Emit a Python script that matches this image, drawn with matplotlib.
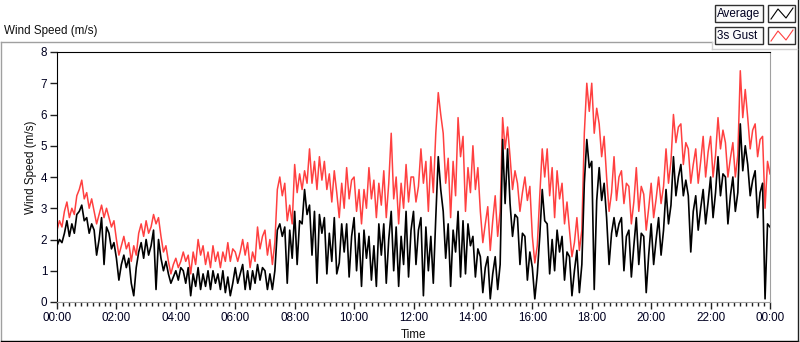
import numpy as np
import matplotlib
matplotlib.use("Agg")
import matplotlib.pyplot as plt
from matplotlib.patches import Rectangle
from matplotlib.ticker import MultipleLocator

plt.rcParams['font.family'] = ['Liberation Sans', 'DejaVu Sans']

# wind speed (m/s), one value every 5 minutes
gust = [
    2.3, 2.6, 2.4, 2.9, 3.2, 2.7, 3.0, 2.8, 3.4, 3.6, 3.9, 3.3,
    3.5, 3.0, 3.3, 2.9, 2.5, 2.8, 3.1, 2.7, 3.0, 2.7, 2.4, 2.6,
    2.0, 1.5, 1.8, 2.1, 1.7, 1.9, 1.3, 1.8, 1.5, 2.2, 2.5, 2.1,
    2.6, 2.2, 2.4, 2.8, 2.5, 2.7, 2.1, 1.6, 1.8, 1.3, 0.9, 1.2,
    1.4, 1.1, 1.3, 1.6, 1.3, 1.5, 0.9, 1.6, 1.2, 2.0, 1.5, 1.8,
    1.2, 1.6, 1.1, 1.8, 1.3, 1.6, 1.1, 1.6, 1.3, 1.9, 1.3, 1.7,
    1.6, 1.3, 1.6, 2.0, 1.5, 1.9, 1.1, 1.6, 1.3, 2.4, 1.7, 2.1,
    2.3, 1.5, 2.0, 1.2, 1.9, 3.6, 4.0, 3.4, 3.8, 2.6, 3.1, 2.5,
    4.4, 3.5, 4.1, 3.6, 4.2, 3.8, 4.9, 3.8, 4.5, 3.6, 4.65, 3.9,
    4.5, 3.6, 4.1, 3.2, 4.2, 3.5, 2.7, 3.8, 3.0, 4.3, 3.3, 3.9,
    4.0, 2.9, 3.6, 2.5, 3.6, 3.0, 4.3, 3.3, 3.9, 2.7, 3.8, 3.1,
    4.2, 2.7, 3.8, 5.4, 3.3, 4.0, 2.5, 3.8, 3.0, 4.4, 3.2, 4.0,
    4.0, 3.2, 3.7, 4.9, 3.8, 4.5, 2.9, 4.65, 3.5, 5.4, 6.7, 6.0,
    5.4, 3.8, 4.6, 2.7, 4.5, 3.4, 5.9, 4.65, 5.3, 2.9, 4.3, 3.5,
    5.0, 3.6, 4.3, 2.9, 1.9, 2.5, 3.05, 1.65, 2.6, 3.4, 2.1, 2.9,
    5.9, 4.9, 5.6, 4.65, 3.6, 4.2, 3.8, 2.9, 3.5, 4.0, 3.25, 3.7,
    2.1, 1.25, 1.8, 3.4, 4.9, 4.0, 4.9, 3.4, 4.3, 2.7, 4.2, 3.3,
    3.8, 2.5, 3.2, 2.3, 1.45, 1.9, 2.7, 1.65, 2.3, 5.4, 7.0, 6.1,
    7.0, 5.4, 6.2, 5.7, 4.65, 5.3, 4.0, 2.9, 3.5, 4.65, 3.25, 4.0,
    4.2, 3.15, 3.8, 3.7, 2.5, 3.2, 4.3, 2.9, 3.7, 3.45, 2.3, 3.0,
    3.8, 2.7, 3.3, 4.0, 3.15, 3.7, 4.9, 3.8, 4.5, 6.0, 5.1, 5.6,
    5.7, 4.4, 5.1, 4.9, 3.8, 4.4, 4.9, 3.8, 4.5, 5.3, 4.0, 4.8,
    5.3, 4.0, 4.7, 5.9, 4.9, 5.5, 5.1, 4.0, 4.6, 5.1, 4.0, 4.7,
    7.4, 5.9, 6.8, 5.9, 4.9, 5.5, 5.7, 4.65, 5.2, 5.3, 3.0, 4.5,
    4.1,
]
average = [
    1.8, 2.0, 1.9, 2.2, 2.6, 2.1, 2.5, 2.2, 2.8, 2.9, 3.1, 2.6,
    2.7, 2.2, 2.5, 2.3, 1.5, 2.0, 2.7, 1.2, 2.4, 2.2, 1.7, 1.9,
    1.4, 0.7, 1.2, 1.5, 1.1, 1.4, 0.6, 0.2, 1.1, 1.6, 1.9, 1.4,
    2.0, 1.5, 1.8, 2.3, 0.4, 2.0, 1.4, 1.0, 1.3, 0.9, 0.6, 0.8,
    1.0, 0.7, 1.1, 1.0, 0.6, 1.1, 0.2, 0.9, 0.5, 1.1, 0.4, 0.9,
    0.5, 1.0, 0.4, 1.0, 0.6, 0.9, 0.4, 1.0, 0.3, 0.8, 0.2, 0.6,
    1.1, 0.6, 0.9, 1.2, 0.4, 1.0, 0.4, 1.0, 0.6, 1.2, 0.7, 1.1,
    1.0, 0.4, 0.9, 0.4, 1.0, 2.3, 2.5, 2.1, 2.4, 0.6, 2.3, 1.4,
    2.9, 1.2, 2.6, 2.5, 3.6, 2.8, 3.1, 1.5, 2.9, 0.6, 2.8, 2.2,
    2.7, 0.9, 2.2, 1.3, 2.7, 0.9, 1.25, 2.5, 1.6, 2.5, 0.8, 2.1,
    2.7, 1.0, 2.2, 0.5, 2.3, 1.4, 2.1, 0.7, 1.8, 0.5, 2.5, 1.5,
    2.5, 0.6, 2.0, 2.9, 1.0, 2.4, 0.5, 2.1, 1.2, 2.9, 0.8, 2.3,
    2.9, 1.2, 2.3, 2.7, 0.2, 2.4, 1.0, 2.1, 0.6, 2.7, 4.65, 3.6,
    2.9, 1.4, 2.5, 0.5, 2.3, 1.6, 2.9, 0.8, 2.6, 0.9, 2.5, 1.8,
    2.1, 0.8, 1.7, 1.45, 0.3, 1.1, 1.45, 0.1, 0.9, 1.45, 0.4, 1.2,
    5.2, 3.15, 4.9, 3.15, 2.1, 2.8, 2.7, 1.2, 2.2, 2.1, 0.7, 1.6,
    1.1, 0.1, 0.9, 2.1, 3.6, 2.6, 2.5, 0.9, 2.0, 1.0, 2.3, 1.6,
    2.1, 0.7, 1.6, 1.45, 0.2, 1.0, 1.65, 0.3, 1.2, 3.8, 5.2, 4.3,
    4.5, 0.4, 3.25, 4.3, 3.25, 3.8, 2.7, 1.2, 2.2, 2.7, 2.1, 2.5,
    2.7, 1.0, 2.1, 2.3, 0.8, 1.8, 2.7, 1.2, 2.2, 2.1, 0.3, 1.5,
    2.5, 1.2, 2.0, 2.7, 1.5, 2.3, 3.6, 2.5, 3.1, 4.65, 3.4, 4.0,
    4.4, 3.4, 3.9, 3.4, 1.6, 2.9, 3.4, 2.3, 3.0, 3.6, 2.5, 3.2,
    4.0, 2.7, 3.5, 4.65, 3.4, 4.1, 4.0, 2.5, 3.4, 4.0, 2.9, 3.5,
    5.7, 4.2, 5.0, 4.4, 3.4, 3.9, 4.2, 2.7, 3.5, 3.8, 0.1, 2.5,
    2.4,
]
hours = np.arange(len(gust)) * 5 / 60.0

tick_hours = list(range(0, 25, 2))
tick_labels = ["00:00", "02:00", "04:00", "06:00", "08:00", "10:00", "12:00",
               "14:00", "16:00", "18:00", "20:00", "22:00", "00:00"]

W, H = 800, 342
fig = plt.figure(figsize=(W / 100, H / 100), dpi=100)

# frame / legend overlay in pixel coordinates
ov = fig.add_axes([0, 0, 1, 1])
ov.set_xlim(0, W)
ov.set_ylim(H, 0)
ov.axis("off")
ov.plot([0.5, 712], [42, 42], color="#a0a0a0", lw=1)
ov.plot([0.5, 0.5], [42, 341], color="#a0a0a0", lw=1)
ov.plot([0.5, 798], [341, 341], color="#000000", lw=1)
ov.plot([798, 798], [0, 341], color="#202020", lw=1)
ov.plot([712, 712], [42, 49], color="#d0d0d0", lw=1)
ov.plot([712, 797], [49, 49], color="#d0d0d0", lw=1)
ov.text(4, 31, "Wind Speed (m/s)", fontsize=8.4, va="center", ha="left", color="#101010")

for top, name, col in [(5, "Average", "black"), (27, "3s Gust", "#ff4040")]:
    ov.add_patch(Rectangle((715, top), 48, 17, fill=True, facecolor="#fbfbfb",
                           edgecolor="#303030", lw=1))
    ov.text(717, top + 9, name, fontsize=8.4, va="center", ha="left", color="#000020")
    ov.add_patch(Rectangle((768, top), 27, 17, fill=True, facecolor="white",
                           edgecolor="#303030", lw=1))
    ov.plot([771, 778, 786, 793], [top + 14, top + 4, top + 13, top + 3], color=col, lw=0.8)

ov.text(31, 167, "Wind Speed (m/s)", fontsize=8.4, rotation=90, va="center", ha="center",
        color="#101010")

ax = fig.add_axes([57 / W, (H - 302) / H, 713 / W, 250 / H])
ax.plot(hours, gust, color="#ff4040", lw=1.1)
ax.plot(hours, average, color="black", lw=1.2)
ax.set_xlim(0, 24)
ax.set_ylim(0, 8)
ax.set_xticks(tick_hours)
ax.set_xticklabels(tick_labels)
ax.xaxis.set_minor_locator(MultipleLocator(0.2))
ax.set_yticks(range(0, 9))
ax.tick_params(axis="both", which="major", length=5, width=1, labelsize=8.4,
               color="#202020", labelcolor="#000020", pad=2)
ax.tick_params(axis="x", which="minor", length=3, width=1, color="#202020")
for s in ["top", "left"]:
    ax.spines[s].set_color("black")
for s in ["bottom", "right"]:
    ax.spines[s].set_color("#a0a0a0")
ax.set_xlabel("Time", fontsize=8.4, labelpad=4, color="#101010")

fig.savefig("out.png", dpi=100)
